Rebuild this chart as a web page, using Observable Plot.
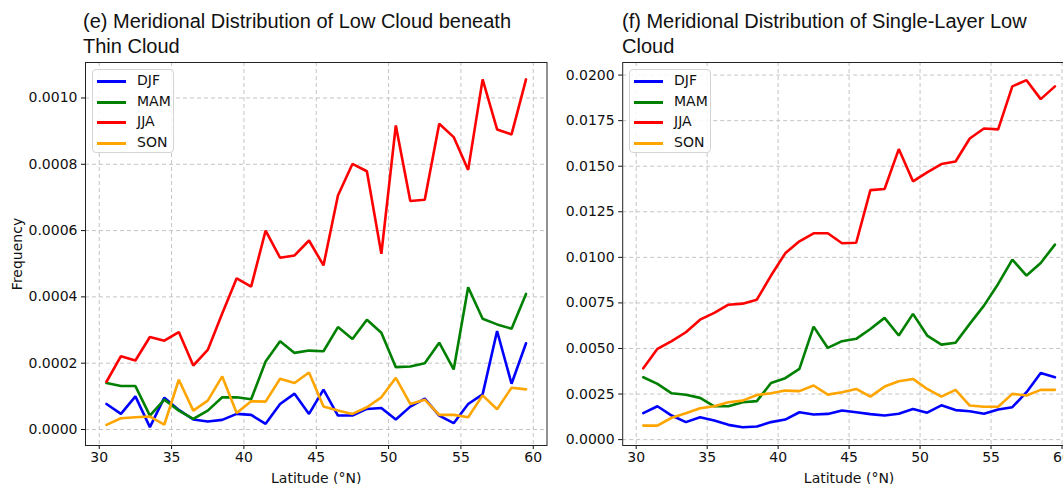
<!DOCTYPE html>
<html>
<head>
<meta charset="utf-8">
<script src="https://cdn.jsdelivr.net/npm/d3@7"></script>
<script src="https://cdn.jsdelivr.net/npm/@observablehq/plot@0.6"></script>
<style>
  html, body { margin: 0; padding: 0; background: #fff; overflow: hidden; }
  #wrap { position: relative; width: 1063px; height: 484px; overflow: hidden; background: #fff; }
  .title { position: absolute; top: 9px; font-family: "Liberation Sans", Arial, sans-serif; font-size: 20px; line-height: 25px; color: #111; white-space: nowrap; }
  .panel { position: absolute; top: 52px; height: 432px; }
  .panel svg { max-width: none !important; }
  .legend { position: absolute; top: 69px; width: 80px; height: 82px; border: 1px solid #d4d4d4; border-radius: 4px; background: rgba(255,255,255,0.85); font-family: "DejaVu Sans", sans-serif; font-size: 14px; color: #111; }
  .legend .row { position: absolute; left: 0; height: 20px; }
  .legend .sw { position: absolute; left: 4px; top: 9px; width: 29px; height: 3px; }
  .legend .lb { position: absolute; left: 44px; top: 1px; white-space: nowrap; }
</style>
</head>
<body>
<div id="wrap">
  <div class="title" style="left:83px">(e) Meridional Distribution of Low Cloud beneath<br>Thin Cloud</div>
  <div class="title" style="left:622px">(f) Meridional Distribution of Single-Layer Low<br>Cloud</div>
  <div class="panel" id="p1" style="left:0px; width:560px"></div>
  <div class="panel" id="p2" style="left:560px; width:530px"></div>
  <div class="legend" id="lg1" style="left:92px"></div>
  <div class="legend" id="lg2" style="left:629px"></div>
</div>
<script>
const seasons = ["DJF", "MAM", "JJA", "SON"];
const seasonColors = ["#0000ff", "#008000", "#ff0000", "#ffa500"];
const latitudes = [30.5, 31.5, 32.5, 33.5, 34.5, 35.5, 36.5, 37.5, 38.5, 39.5,
                   40.5, 41.5, 42.5, 43.5, 44.5, 45.5, 46.5, 47.5, 48.5, 49.5,
                   50.5, 51.5, 52.5, 53.5, 54.5, 55.5, 56.5, 57.5, 58.5, 59.5];
const xTicks = [30, 35, 40, 45, 50, 55, 60];

// Panel (e): Low cloud beneath thin cloud
const eDJF = [0.000077, 0.000047, 0.000100, 0.000007, 0.000096, 0.000059, 0.000030, 0.000024, 0.000029, 0.000047,
              0.000044, 0.000017, 0.000077, 0.000108, 0.000047, 0.000120, 0.000042, 0.000042, 0.000062, 0.000065,
              0.000030, 0.000069, 0.000093, 0.000042, 0.000019, 0.000077, 0.000106, 0.000297, 0.000138, 0.000260];
const eMAM = [0.000140, 0.000131, 0.000131, 0.000042, 0.000090, 0.000057, 0.000032, 0.000057, 0.000097, 0.000097,
              0.000091, 0.000205, 0.000266, 0.000231, 0.000238, 0.000236, 0.000309, 0.000273, 0.000331, 0.000292,
              0.000188, 0.000190, 0.000200, 0.000262, 0.000181, 0.000429, 0.000334, 0.000317, 0.000304, 0.000409];
const eJJA = [0.000144, 0.000221, 0.000208, 0.000279, 0.000268, 0.000294, 0.000193, 0.000240, 0.000350, 0.000456,
              0.000431, 0.000600, 0.000518, 0.000525, 0.000570, 0.000495, 0.000706, 0.000801, 0.000779, 0.000530,
              0.000917, 0.000689, 0.000693, 0.000922, 0.000882, 0.000783, 0.001056, 0.000905, 0.000890, 0.001056];
const eSON = [0.000014, 0.000034, 0.000037, 0.000039, 0.000015, 0.000150, 0.000057, 0.000087, 0.000160, 0.000050,
              0.000085, 0.000084, 0.000153, 0.000140, 0.000172, 0.000069, 0.000057, 0.000047, 0.000067, 0.000097,
              0.000156, 0.000077, 0.000090, 0.000044, 0.000044, 0.000037, 0.000103, 0.000061, 0.000126, 0.000121];
const eYTicks = [0, 0.0002, 0.0004, 0.0006, 0.0008, 0.0010];

// Panel (f): Single-layer low cloud
const fDJF = [0.00145, 0.00183, 0.00132, 0.00096, 0.00123, 0.00105, 0.00081, 0.00068, 0.00072, 0.00096,
              0.00110, 0.00150, 0.00138, 0.00141, 0.00160, 0.00150, 0.00140, 0.00132, 0.00142, 0.00168,
              0.00148, 0.00188, 0.00162, 0.00156, 0.00142, 0.00165, 0.00178, 0.00260, 0.00366, 0.00342];
const fMAM = [0.00342, 0.00306, 0.00254, 0.00246, 0.00229, 0.00183, 0.00183, 0.00205, 0.00211, 0.00311,
              0.00337, 0.00388, 0.00620, 0.00503, 0.00540, 0.00553, 0.00607, 0.00668, 0.00571, 0.00690,
              0.00571, 0.00521, 0.00531, 0.00635, 0.00735, 0.00854, 0.00987, 0.00900, 0.00969, 0.01070];
const fJJA = [0.00391, 0.00498, 0.00540, 0.00589, 0.00658, 0.00695, 0.00740, 0.00746, 0.00768, 0.00900,
              0.01022, 0.01088, 0.01132, 0.01132, 0.01077, 0.01080, 0.01369, 0.01375, 0.01594, 0.01417,
              0.01466, 0.01512, 0.01526, 0.01652, 0.01707, 0.01702, 0.01938, 0.01972, 0.01868, 0.01938];
const fSON = [0.00077, 0.00077, 0.00120, 0.00145, 0.00172, 0.00183, 0.00205, 0.00214, 0.00245, 0.00254,
              0.00269, 0.00266, 0.00297, 0.00247, 0.00260, 0.00278, 0.00236, 0.00291, 0.00320, 0.00333,
              0.00278, 0.00236, 0.00273, 0.00187, 0.00180, 0.00180, 0.00251, 0.00242, 0.00273, 0.00273];
const fYTicks = [0, 0.0025, 0.005, 0.0075, 0.01, 0.0125, 0.015, 0.0175, 0.02];

function toRows(series) {
  const rows = [];
  seasons.forEach((s, i) => {
    latitudes.forEach((lat, j) => rows.push({season: s, lat, value: series[i][j]}));
  });
  return rows;
}

function makePanel({rows, yDomain, yTicks, width, marginLeft, marginRight, yLabel}) {
  return Plot.plot({
    width, height: 432,
    marginLeft, marginRight, marginTop: 10, marginBottom: 39,
    style: {fontFamily: "'DejaVu Sans', sans-serif", fontSize: "14px", color: "#111", background: "transparent", overflow: "visible", maxWidth: "none"},
    x: {domain: [29.05, 60.95], ticks: xTicks, tickFormat: d => String(d), tickSize: 4, tickPadding: 3,
        label: "Latitude (°N)", labelAnchor: "center", labelArrow: "none", labelOffset: 37},
    y: {domain: yDomain, ticks: yTicks, tickFormat: ".4f", tickSize: 4, tickPadding: 4,
        label: yLabel, labelAnchor: "center", labelArrow: "none", labelOffset: 73},
    color: {domain: seasons, range: seasonColors},
    marks: [
      Plot.gridX(xTicks, {stroke: "#c4c4c4", strokeOpacity: 1, strokeDasharray: "4,3"}),
      Plot.gridY(yTicks, {stroke: "#c4c4c4", strokeOpacity: 1, strokeDasharray: "4,3"}),
      Plot.line(rows, {x: "lat", y: "value", z: "season", stroke: "season", strokeWidth: 2.6, strokeLinejoin: "miter"}),
      Plot.frame({stroke: "#222", strokeWidth: 1})
    ]
  });
}

document.getElementById("p1").appendChild(makePanel({
  rows: toRows([eDJF, eMAM, eJJA, eSON]),
  yDomain: [-0.0000483, 0.001107], yTicks: eYTicks,
  width: 560, marginLeft: 85, marginRight: 13.5, yLabel: "Frequency"
}));
document.getElementById("p2").appendChild(makePanel({
  rows: toRows([fDJF, fMAM, fJJA, fSON]),
  yDomain: [-0.000323, 0.02069], yTicks: fYTicks,
  width: 530, marginLeft: 62.2, marginRight: 15, yLabel: null
}));

function legend(id) {
  const el = document.getElementById(id);
  seasons.forEach((s, i) => {
    const row = document.createElement("div");
    row.className = "row";
    row.style.top = (1 + i * 20.5) + "px";
    row.innerHTML = `<div class="sw" style="background:${seasonColors[i]}"></div><div class="lb">${s}</div>`;
    el.appendChild(row);
  });
}
legend("lg1");
legend("lg2");
</script>
</body>
</html>
